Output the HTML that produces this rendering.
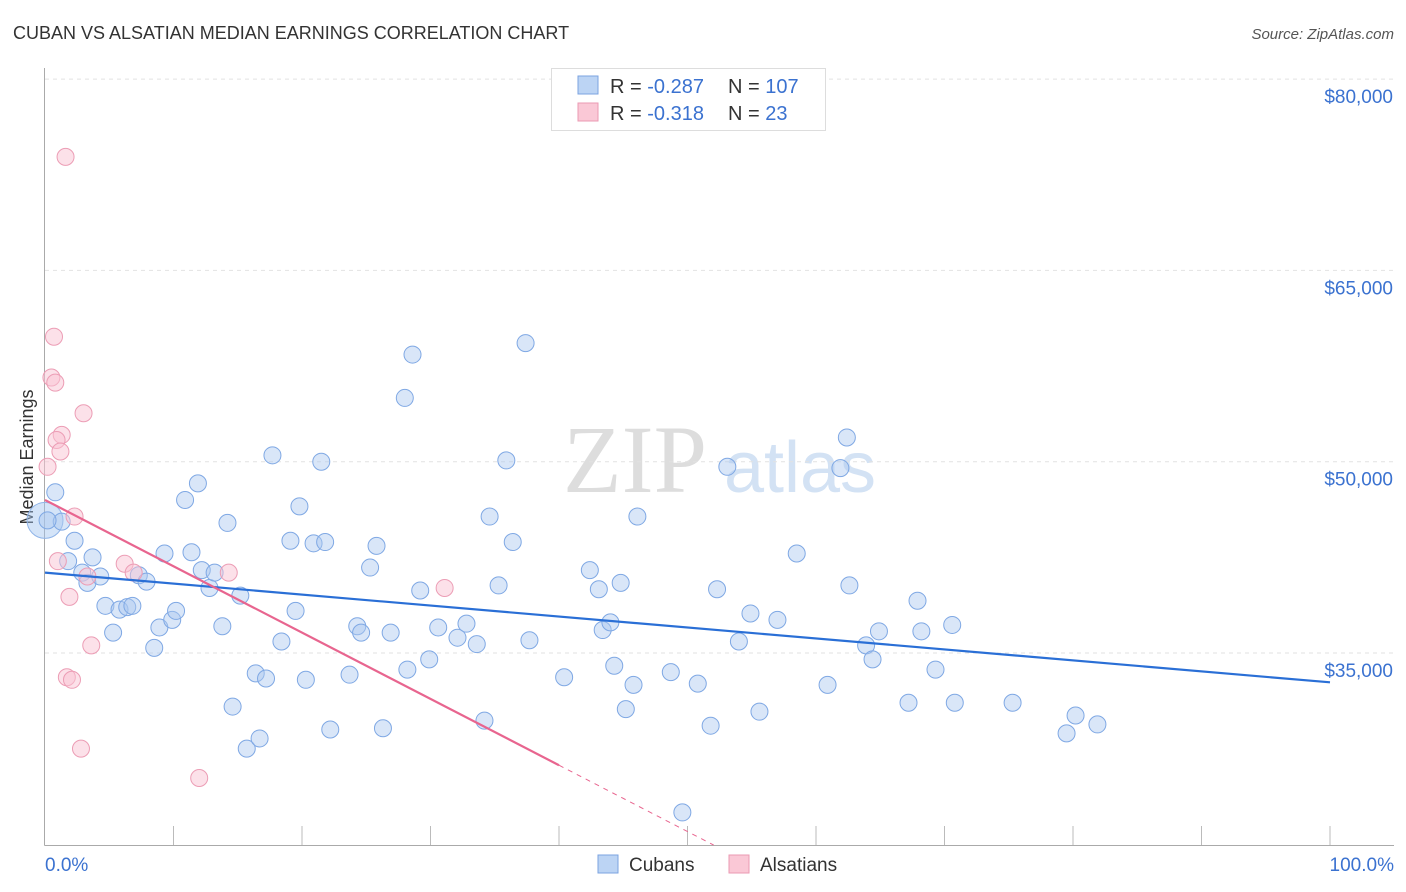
<!DOCTYPE html>
<html><head><meta charset="utf-8"><style>
body{margin:0;background:#fff;font-family:"Liberation Sans",sans-serif}
svg{display:block}
</style></head><body>
<svg id="c" width="1406" height="892" xmlns="http://www.w3.org/2000/svg">
<text x="13" y="39" font-size="18" fill="#333">CUBAN VS ALSATIAN MEDIAN EARNINGS CORRELATION CHART</text>
<text x="1394" y="39" font-size="15" fill="#555" font-style="italic" text-anchor="end">Source: ZipAtlas.com</text>
<text x="33" y="457" font-size="18" fill="#333" text-anchor="middle" transform="rotate(-90 33 457)">Median Earnings</text>
<text x="635" y="492" font-size="96" fill="#ddd" font-family="Liberation Serif,serif" text-anchor="middle">ZIP</text>
<text x="800" y="492" font-size="72" fill="#d3e2f4" text-anchor="middle">atlas</text>
<g id="grid"></g><g id="axes"></g><g id="pts"></g><g id="lines"></g>
<g>
<rect x="551.5" y="68.5" width="274" height="62" fill="#fff" stroke="#ddd"/>
<rect x="578" y="76" width="20" height="18" fill="#bcd4f4" stroke="#7ba3e0"/>
<rect x="578" y="103" width="20" height="18" fill="#fac8d6" stroke="#eb9ab3"/>
<text x="610" y="93" font-size="20" fill="#333">R = <tspan fill="#3b72d0">-0.287</tspan></text>
<text x="728" y="93" font-size="20" fill="#333">N = <tspan fill="#3b72d0">107</tspan></text>
<text x="610" y="120" font-size="20" fill="#333">R = <tspan fill="#3b72d0"> -0.318</tspan></text>
<text x="728" y="120" font-size="20" fill="#333">N = <tspan fill="#3b72d0">  23</tspan></text>
</g>
<g>
<rect x="598" y="855" width="20" height="18" fill="#bcd4f4" stroke="#7ba3e0"/>
<text x="629" y="871" font-size="19" fill="#333">Cubans</text>
<rect x="729" y="855" width="20" height="18" fill="#fac8d6" stroke="#eb9ab3"/>
<text x="760" y="871" font-size="19" fill="#333">Alsatians</text>
</g>
<text x="45" y="871" font-size="19" fill="#3b72d0">0.0%</text>
<text x="1394" y="871" font-size="19" fill="#3b72d0" text-anchor="end">100.0%</text>
</svg>
<script>
const yTicks=[35000,50000,65000,80000];
const yTickLabels=["$35,000","$50,000","$65,000","$80,000"];
const blueX=[0.8,1.3,0.2,1.8,2.3,2.9,3.3,3.7,4.3,4.7,5.3,5.8,6.4,6.8,7.3,7.9,8.5,8.9,9.3,9.9,10.2,10.9,11.4,11.9,12.2,12.8,13.2,13.8,14.2,15.2,15.7,14.6,16.4,16.7,17.2,17.7,18.4,19.1,19.5,19.8,20.3,20.9,21.5,21.8,22.2,23.7,24.3,24.6,25.3,25.8,26.3,26.9,28.0,28.2,28.6,29.2,29.9,30.6,32.1,32.8,33.6,34.2,34.6,35.3,35.9,36.4,37.4,37.7,40.4,42.4,43.1,43.4,44.0,44.3,44.8,45.2,45.8,46.1,48.7,49.6,50.8,51.8,52.3,53.1,54.0,54.9,55.6,57.0,58.5,60.9,61.9,62.4,62.6,63.9,64.4,64.9,67.2,67.9,68.2,70.6,69.3,70.8,75.3,79.5,80.2,81.9];
const blueY=[47.6,45.3,45.4,42.2,43.8,41.3,40.5,42.5,41.0,38.7,36.6,38.4,38.6,38.7,41.1,40.6,35.4,37.0,42.8,37.6,38.3,47.0,42.9,48.3,41.5,40.1,41.3,37.1,45.2,39.5,27.5,30.8,33.4,28.3,33.0,50.5,35.9,43.8,38.3,46.5,32.9,43.6,50.0,43.7,29.0,33.3,37.1,36.6,41.7,43.4,29.1,36.6,55.0,33.7,58.4,39.9,34.5,37.0,36.2,37.3,35.7,29.7,45.7,40.3,50.1,43.7,59.3,36.0,33.1,41.5,40.0,36.8,37.4,34.0,40.5,30.6,32.5,45.7,33.5,22.5,32.6,29.3,40.0,49.6,35.9,38.1,30.4,37.6,42.8,32.5,49.5,51.9,40.3,35.6,34.5,36.7,31.1,39.1,36.7,37.2,33.7,31.1,31.1,28.7,30.1,29.4];
const pinkX=[1.6,0.7,0.5,0.8,3.0,1.3,0.9,1.2,0.2,2.3,1.0,3.3,1.9,3.6,1.7,2.1,2.8,6.2,6.9,14.3,12.0,31.1];
const pinkY=[73.9,59.8,56.6,56.2,53.8,52.1,51.7,50.8,49.6,45.7,42.2,41.0,39.4,35.6,33.1,32.9,27.5,42.0,41.3,41.3,25.2,40.1];
const blueTrend=[41.3,32.7];
const pinkTrend=[47.0,-0.52]; // intercept (k$), slope per %
const NS="http://www.w3.org/2000/svg";
const X0=45,X1=1330;
const xs=p=>X0+(X1-X0)*p/100;
const ys=v=>653-(v-35000)*(191.3/15000);
const yk=v=>ys(v*1000);
function mk(tag,attrs,parent){const e=document.createElementNS(NS,tag);for(const k in attrs)e.setAttribute(k,attrs[k]);parent.appendChild(e);return e;}
const grid=document.getElementById('grid'),axes=document.getElementById('axes'),pts=document.getElementById('pts'),lines=document.getElementById('lines');
yTicks.forEach((t,i)=>{
 const l=mk('line',{x1:45,x2:1394,y1:ys(t),y2:ys(t),stroke:'#e2e2e2','stroke-dasharray':'4 4'},grid);
 
 
 const tx=mk('text',{x:1393,y:ys(t)+24,'font-size':19,fill:'#3b72d0','text-anchor':'end'},grid);
 tx.textContent=yTickLabels[i];
 
 
});
const xa=mk('line',{x1:44.5,x2:1394,y1:845.5,y2:845.5,stroke:'#aaa'},axes);


const ya=mk('line',{x1:44.5,x2:44.5,y1:68,y2:845.5,stroke:'#aaa'},axes);


for(let i=1;i<=10;i++){const t=mk('line',{x1:xs(i*10),x2:xs(i*10),y1:826,y2:845,stroke:'#bbb'},axes);
 
 }
const big=mk('circle',{cx:xs(0),cy:yk(45.4),r:18,fill:'rgba(160,195,240,0.45)',stroke:'#8fb4e8'},pts);


blueX.forEach((x,i)=>{const c=mk('circle',{cx:xs(x),cy:yk(blueY[i]),r:8.5,fill:'rgba(170,200,240,0.45)',stroke:'#7fa8e4','stroke-width':1},pts);
 
 });
pinkX.forEach((x,i)=>{const c=mk('circle',{cx:xs(x),cy:yk(pinkY[i]),r:8.5,fill:'rgba(250,195,212,0.5)',stroke:'#ec9db5','stroke-width':1},pts);
 
 });
const bl=mk('line',{x1:xs(0),y1:yk(blueTrend[0]),x2:xs(100),y2:yk(blueTrend[1]),stroke:'#2a6fd6','stroke-width':2.2},lines);


const pv=p=>pinkTrend[0]+pinkTrend[1]*p;
const pl=mk('line',{x1:xs(0),y1:yk(pv(0)),x2:xs(40),y2:yk(pv(40)),stroke:'#e8658f','stroke-width':2.2},lines);


const pend=(pinkTrend[0]-19.94)/(-pinkTrend[1]);
const pd=mk('line',{x1:xs(40),y1:yk(pv(40)),x2:xs(pend),y2:yk(pv(pend)),stroke:'#e8658f','stroke-width':1,'stroke-dasharray':'5 5'},lines);


</script>
</body></html>
